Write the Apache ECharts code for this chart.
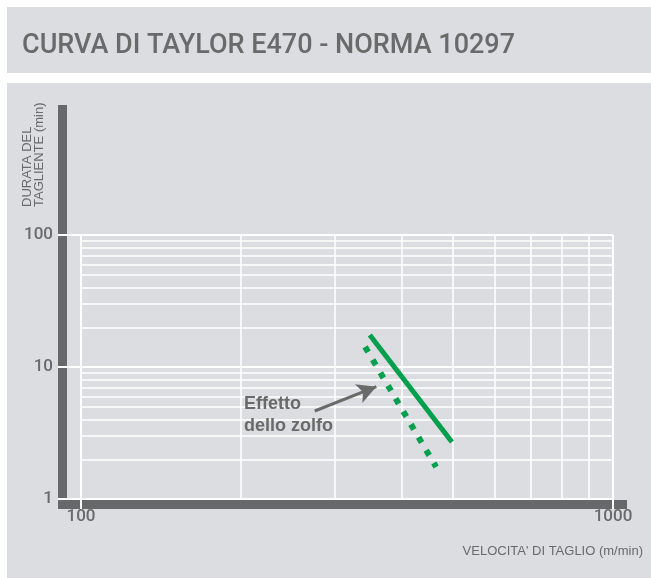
<!DOCTYPE html>
<html>
<head>
<meta charset="utf-8">
<script src="https://cdn.jsdelivr.net/npm/echarts@6/dist/echarts.min.js"></script>
<style>
html,body{margin:0;padding:0;background:#ffffff;}
#c{width:651px;height:578px;}
</style>
</head>
<body>
<div id="c"></div>
<script>
// ---- data ----
const titleText = 'CURVA DI TAYLOR E470 - NORMA 10297';
const yTitleLines = ['DURATA DEL', 'TAGLIENTE (min)'];
const xTitle = "VELOCITA' DI TAGLIO (m/min)";
const noteLines = ['Effetto', 'dello zolfo'];
const xRange = [100, 1000];
const yRange = [1, 100];
const xMinorGrid = [200, 300, 400, 500, 600, 700, 800, 900];
const yMinorGrid = [2, 3, 4, 5, 6, 7, 8, 9, 20, 30, 40, 50, 60, 70, 80, 90];
// Taylor curve (solid) : speed m/min -> tool life min
const taylorSpeed = [349, 498];
const taylorLife = [17.5, 2.7];
// sulphur effect (dotted)
const sulphurSpeed = [342, 465];
const sulphurLife = [14.2, 1.75];
// annotation arrow: [speed, life]
const arrowFrom = [275, 4.64];
const arrowTo = [359, 7.1];

const GRAY = '#dcdde0';
const DARK = '#676869';
const TEXT = '#6a6a6a';
const GREEN = '#009f4d';
const FONT = 'Roboto, "Liberation Sans", Arial, sans-serif';
const FONT2 = '"Liberation Sans", Arial, sans-serif';

const chart = echarts.init(document.getElementById('c'), null, {renderer: 'canvas'});

const pairs = (xs, ys) => xs.map((x, i) => [x, ys[i]]);

const option = {
  animation: false,
  backgroundColor: '#ffffff',
  grid: {left: 81, right: 38, top: 235, bottom: 79},
  xAxis: {
    type: 'log', logBase: 10, min: xRange[0], max: xRange[1],
    axisLine: {show: false},
    axisTick: {show: true, length: 10, lineStyle: {color: '#ffffff', width: 2}},
    axisLabel: {color: TEXT, fontSize: 17, fontWeight: 500, fontFamily: FONT, margin: 9,
      formatter: v => String(v)},
    splitLine: {show: true, lineStyle: {color: '#ffffff', width: 2}},
    minorTick: {show: false}, minorSplitLine: {show: false}
  },
  yAxis: {
    type: 'log', logBase: 10, min: yRange[0], max: yRange[1],
    axisLine: {show: false},
    axisTick: {show: true, length: 23, lineStyle: {color: '#ffffff', width: 2}},
    axisLabel: {color: TEXT, fontSize: 17, fontWeight: 500, fontFamily: FONT, margin: 28,
      formatter: v => String(v)},
    splitLine: {show: true, lineStyle: {color: '#ffffff', width: 2}},
    minorTick: {show: false}, minorSplitLine: {show: false}
  },
  graphic: [
    {type: 'rect', z: -10, silent: true, shape: {x: 7, y: 7, width: 644, height: 66}, style: {fill: GRAY}},
    {type: 'rect', z: -10, silent: true, shape: {x: 7, y: 83, width: 644, height: 495}, style: {fill: GRAY}},
    {type: 'rect', z: -5, silent: true, shape: {x: 58, y: 105, width: 9, height: 393}, style: {fill: DARK}},
    {type: 'rect', z: -5, silent: true, shape: {x: 58, y: 500, width: 569, height: 9}, style: {fill: DARK}},
    {type: 'text', z: 10, x: 22, y: 46, silent: true,
      style: {text: titleText, fill: TEXT, fontSize: 27, fontWeight: 500, fontFamily: FONT, align: 'left', verticalAlign: 'middle'}},
    {type: 'text', z: 10, x: 27, y: 207, rotation: Math.PI / 2, silent: true,
      style: {text: yTitleLines[0], fill: TEXT, fontSize: 13, fontFamily: FONT2, align: 'left', verticalAlign: 'middle'}},
    {type: 'text', z: 10, x: 39.5, y: 207, rotation: Math.PI / 2, silent: true,
      style: {text: yTitleLines[1], fill: TEXT, fontSize: 13, fontFamily: FONT2, align: 'left', verticalAlign: 'middle'}},
    {type: 'text', z: 10, x: 643, y: 551, silent: true,
      style: {text: xTitle, fill: TEXT, fontSize: 13, fontFamily: FONT2, align: 'right', verticalAlign: 'middle'}},
    {type: 'text', z: 10, x: 244, y: 404, silent: true,
      style: {text: noteLines[0], fill: TEXT, fontSize: 18, fontWeight: 'bold', fontFamily: FONT2, align: 'left', verticalAlign: 'middle'}},
    {type: 'text', z: 10, x: 244, y: 426, silent: true,
      style: {text: noteLines[1], fill: TEXT, fontSize: 18, fontWeight: 'bold', fontFamily: FONT2, align: 'left', verticalAlign: 'middle'}}
  ],
  series: [
    {
      name: 'grid', type: 'line', z: 1, data: [], silent: true,
      markLine: {
        z: 1, silent: true, symbol: ['none', 'none'], label: {show: false}, animation: false,
        lineStyle: {color: '#ffffff', width: 1.5, type: 'solid'},
        emphasis: {disabled: true},
        data: xMinorGrid.map(v => ({xAxis: v})).concat(yMinorGrid.map(v => ({yAxis: v})))
      }
    },
    {
      name: 'Taylor', type: 'line', z: 3, data: pairs(taylorSpeed, taylorLife),
      symbol: 'none', silent: true,
      lineStyle: {color: GREEN, width: 5, cap: 'butt'}
    },
    {
      name: 'Zolfo', type: 'line', z: 3, data: pairs(sulphurSpeed, sulphurLife),
      symbol: 'none', silent: true,
      lineStyle: {color: GREEN, width: 6, type: [6, 9], cap: 'butt'}
    },
    {
      name: 'arrow', type: 'line', z: 4, data: [], silent: true,
      markLine: {
        z: 6, silent: true, symbol: ['none', 'arrow'], symbolSize: [15, 19], label: {show: false},
        lineStyle: {color: TEXT, width: 3, type: 'solid'},
        emphasis: {disabled: true},
        data: [[{coord: arrowFrom}, {coord: arrowTo}]]
      }
    }
  ]
};
chart.setOption(option);
</script>
</body>
</html>
